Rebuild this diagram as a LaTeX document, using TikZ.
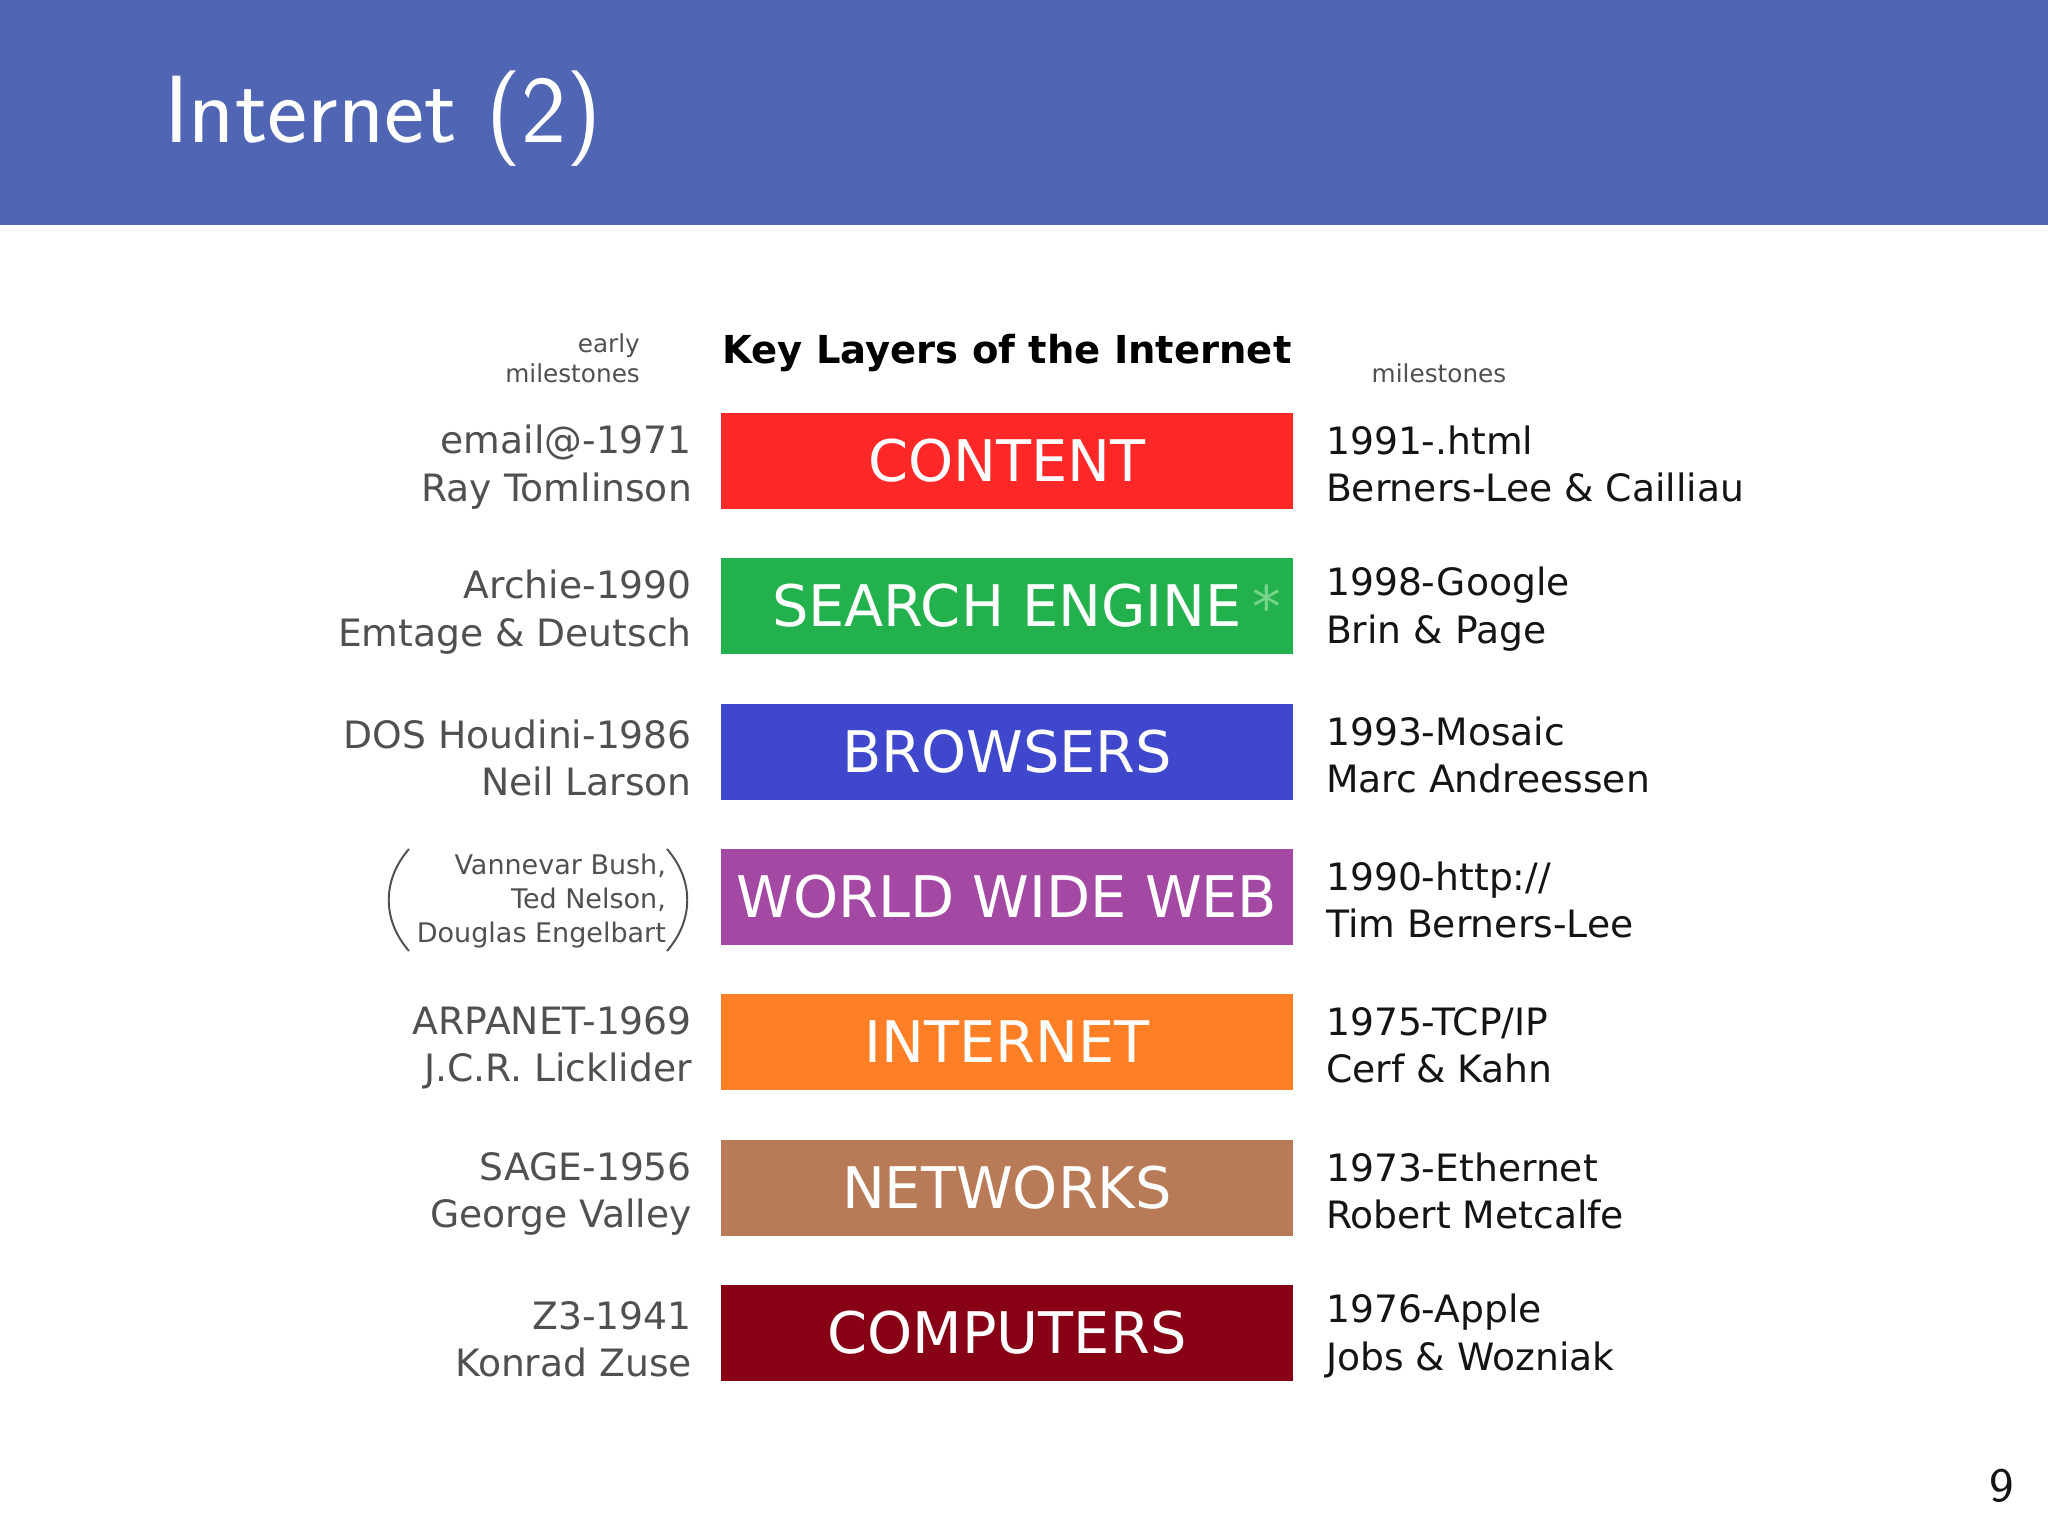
\documentclass[tikz,border=0pt]{standalone}
\usepackage{fontspec}
\newfontfamily\verd{DejaVu Sans}

\definecolor{headblue}{RGB}{80,102,180}
\definecolor{contentred}{RGB}{255,40,40}
\definecolor{searchgreen}{RGB}{34,177,76}
\definecolor{browserblue}{RGB}{63,72,204}
\definecolor{webpurple}{RGB}{163,73,164}
\definecolor{netorange}{RGB}{255,127,39}
\definecolor{networkbrown}{RGB}{185,122,87}
\definecolor{computerred}{RGB}{136,0,21}
\definecolor{stargreen}{RGB}{120,214,140}
\definecolor{leftgray}{RGB}{80,80,80}
\definecolor{rightblack}{RGB}{20,20,20}

\tikzset{
  layer/.style={rectangle, fill=#1, minimum width=35.7mm, minimum height=6.04mm,
    inner sep=0pt, text=white, font=\verd\fontsize{10.2}{12}\selectfont},
  earlytext/.style={anchor=east, align=right, inner sep=0pt, text=leftgray,
    font=\verd\fontsize{6.7}{8.4}\selectfont},
  latertext/.style={anchor=west, align=left, inner sep=0pt, text=rightblack,
    font=\verd\fontsize{6.7}{8.4}\selectfont},
  paren/.style={draw=leftgray, line width=0.35pt}
}

\begin{document}
\begin{tikzpicture}[x=0.0625mm, y=-0.0625mm]
  \useasboundingbox (0,0) rectangle (2048,1536);

  % title bar
  \fill[headblue] (0,0) rectangle (2048,225);
  \node[anchor=base west, inner sep=0pt, text=white,
    font=\sffamily\fontsize{17}{20}\selectfont] (title) at (163,143) {Internet (2)};

  % headings
  \node[inner sep=0pt, font=\verd\bfseries\fontsize{6.85}{8}\selectfont] (heading) at (1007,353) {Key Layers of the Internet};
  \node[anchor=east, align=right, inner sep=0pt, text=leftgray,
    font=\verd\fontsize{4.4}{5.3}\selectfont] (earlyhead) at (641,358) {early\\milestones};
  \node[inner sep=0pt, text=leftgray, font=\verd\fontsize{4.4}{5.3}\selectfont] (laterhead) at (1439,373) {milestones};

  % the layers
  \begin{scope}
    \node[layer=contentred]   (content)   at (1007,461)  {CONTENT};
    \node[layer=searchgreen]  (search)    at (1007,606)  {SEARCH ENGINE};
    \node[layer=browserblue]  (browsers)  at (1007,752)  {BROWSERS};
    \node[layer=webpurple]    (www)       at (1007,897)  {WORLD WIDE WEB};
    \node[layer=netorange]    (internet)  at (1007,1042) {INTERNET};
    \node[layer=networkbrown] (networks)  at (1007,1188) {NETWORKS};
    \node[layer=computerred]  (computers) at (1007,1333) {COMPUTERS};
  \end{scope}
  \node[anchor=base, inner sep=0pt, text=stargreen,
    font=\verd\fontsize{10.2}{12}\selectfont] (star) at (1267,627) {*};

  % early milestones
  \begin{scope}[every node/.style={earlytext}]
    \node (e1) at (693,467)  {email@-1971\\Ray Tomlinson};
    \node (e2) at (693,612)  {Archie-1990\\Emtage \& Deutsch};
    \node (e3) at (693,758)  {DOS Houdini-1986\\Neil Larson};
    \node (e5) at (693,1048) {ARPANET-1969\\J.C.R. Licklider};
    \node (e6) at (693,1194) {SAGE-1956\\George Valley};
    \node (e7) at (693,1339) {Z3-1941\\Konrad Zuse};
  \end{scope}
  \node[earlytext, font=\verd\fontsize{4.8}{6}\selectfont] (e4) at (667,901)
    {Vannevar Bush,\\Ted Nelson,\\Douglas Engelbart};
  \draw[paren] (409,849) .. controls (382,880) and (382,920) .. (409,951);
  \draw[paren] (667,849) .. controls (694,880) and (694,920) .. (667,951);

  % milestones
  \begin{scope}[every node/.style={latertext}]
    \node (m1) at (1325,464)  {1991-.html\\Berners-Lee \& Cailliau};
    \node (m2) at (1325,609)  {1998-Google\\Brin \& Page};
    \node (m3) at (1325,755)  {1993-Mosaic\\Marc Andreessen};
    \node (m4) at (1325,900)  {1990-http://\\Tim Berners-Lee};
    \node (m5) at (1325,1045) {1975-TCP/IP\\Cerf \& Kahn};
    \node (m6) at (1325,1191) {1973-Ethernet\\Robert Metcalfe};
    \node (m7) at (1325,1336) {1976-Apple\\Jobs \& Wozniak};
  \end{scope}

  % page number
  \node[inner sep=0pt, text=rightblack, font=\sffamily\fontsize{8.5}{10}\selectfont] (page) at (2002,1486) {9};
\end{tikzpicture}
\end{document}
